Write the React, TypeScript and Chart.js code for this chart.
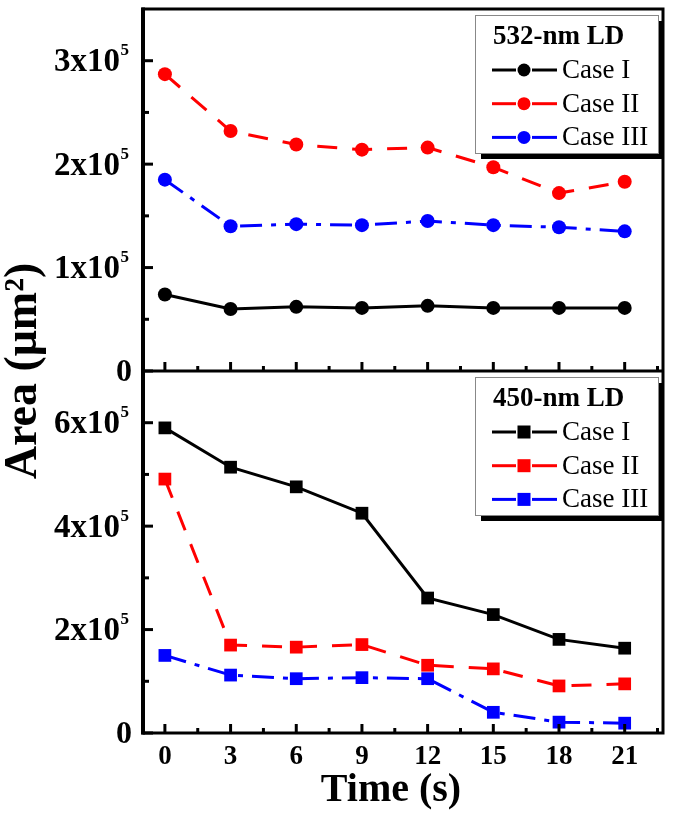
import React, { useEffect, useRef } from 'react';
import { Chart, registerables } from 'chart.js';

Chart.register(...registerables);

// ---------- data ----------
const timeValues = [0, 3, 6, 9, 12, 15, 18, 21];

const area532CaseI = [74000, 60000, 62000, 61000, 63000, 61000, 61000, 61000];
const area532CaseII = [287000, 232000, 219000, 214000, 216000, 197000, 172000, 183000];
const area532CaseIII = [185000, 140000, 142000, 141000, 145000, 141000, 139000, 135000];

const area450CaseI = [590000, 514000, 476000, 425000, 261000, 229000, 181000, 164000];
const area450CaseII = [491000, 170000, 166000, 171000, 131000, 124000, 91000, 95000];
const area450CaseIII = [150000, 112000, 105000, 107000, 105000, 40000, 21000, 19000];

const xTickValues = [0, 3, 6, 9, 12, 15, 18, 21];
const xMinorTickValues = [1.5, 4.5, 7.5, 10.5, 13.5, 16.5, 19.5, 22.5];
const yTopTickValues = [0, 100000, 200000, 300000];
const yTopMinorTickValues = [50000, 150000, 250000];
const yBotTickValues = [0, 200000, 400000, 600000];
const yBotMinorTickValues = [100000, 300000, 500000];

const legendTitles = ['532-nm LD', '450-nm LD'];
const caseLabels = ['Case I', 'Case II', 'Case III'];
const xAxisTitle = 'Time (s)';
const yAxisTitle = 'Area (\u03BCm\u00B2)';

// ---------- styles ----------
const FONT = '"Liberation Serif", "Times New Roman", serif';
const caseColors = ['#000000', '#ff0000', '#0000ff'];
const caseDashes: number[][] = [[], [20, 15], [22, 9, 5, 9]];

const makeDataset = (values: number[], idx: number, panel: number) => {
  const isCircle = panel === 0;
  return {
    label: caseLabels[idx],
    data: timeValues.map((x, i) => ({ x, y: values[i] })),
    borderColor: caseColors[idx],
    backgroundColor: caseColors[idx],
    borderWidth: 3,
    borderDash: caseDashes[idx],
    pointStyle: isCircle ? 'circle' : 'rect',
    pointRadius: isCircle ? 7 : 9,
    pointBorderWidth: 0,
    pointBackgroundColor: caseColors[idx],
    pointBorderColor: caseColors[idx],
    yAxisID: panel === 0 ? 'yTop' : 'yBot',
    tension: 0,
    panel,
  };
};

const framePlugin = {
  id: 'framePlugin',
  afterDatasetsDraw(chart: any) {
    const { ctx, chartArea: ca, scales } = chart;
    const xs = scales.x;
    const panels = [
      { s: scales.yTop, major: yTopTickValues, minor: yTopMinorTickValues },
      { s: scales.yBot, major: yBotTickValues, minor: yBotMinorTickValues },
    ];
    ctx.save();
    ctx.strokeStyle = '#000';
    ctx.setLineDash([]);
    ctx.lineWidth = 3;
    ctx.lineCap = 'butt';
    for (const p of panels) {
      const bottom = p.s.bottom;
      for (const v of xTickValues) {
        const px = xs.getPixelForValue(v);
        ctx.beginPath(); ctx.moveTo(px, bottom); ctx.lineTo(px, bottom - 9); ctx.stroke();
      }
      for (const v of xMinorTickValues) {
        const px = xs.getPixelForValue(v);
        ctx.beginPath(); ctx.moveTo(px, bottom); ctx.lineTo(px, bottom - 5); ctx.stroke();
      }
      for (const v of p.major) {
        const py = p.s.getPixelForValue(v);
        ctx.beginPath(); ctx.moveTo(ca.left, py); ctx.lineTo(ca.left + 10, py); ctx.stroke();
      }
      for (const v of p.minor) {
        const py = p.s.getPixelForValue(v);
        ctx.beginPath(); ctx.moveTo(ca.left, py); ctx.lineTo(ca.left + 6, py); ctx.stroke();
      }
    }
    // frame
    ctx.lineWidth = 3;
    ctx.strokeRect(ca.left, ca.top, ca.right - ca.left, ca.bottom - ca.top);
    const mid = scales.yTop.bottom;
    ctx.beginPath(); ctx.moveTo(ca.left, mid); ctx.lineTo(ca.right, mid); ctx.stroke();
    ctx.lineWidth = 4;
    ctx.beginPath(); ctx.moveTo(ca.left, ca.top - 1.5); ctx.lineTo(ca.left, ca.bottom + 1.5); ctx.stroke();
    ctx.restore();
  },
  afterDraw(chart: any) {
    const { ctx, chartArea: ca, scales } = chart;
    ctx.save();
    ctx.fillStyle = '#000';
    // y tick labels with superscript exponent
    const panels = [
      { s: scales.yTop, major: yTopTickValues },
      { s: scales.yBot, major: yBotTickValues },
    ];
    ctx.textBaseline = 'middle';
    ctx.textAlign = 'right';
    for (const p of panels) {
      for (const v of p.major) {
        const py = p.s.getPixelForValue(v) + 2;
        if (v === 0) {
          ctx.font = `bold 32px ${FONT}`;
          ctx.fillText('0', ca.left - 11, py);
        } else {
          ctx.font = `bold 17px ${FONT}`;
          const sw = ctx.measureText('5').width;
          ctx.fillText('5', ca.left - 14, py - 12);
          ctx.font = `bold 33px ${FONT}`;
          ctx.fillText(`${v / 100000}x10`, ca.left - 14 - sw - 0.5, py);
        }
      }
    }
    // axis titles
    ctx.textAlign = 'center';
    ctx.font = `bold 40px ${FONT}`;
    ctx.fillText(xAxisTitle, ca.left + 248, ca.bottom + 58);
    ctx.save();
    ctx.translate(24, (ca.top + ca.bottom) / 2);
    ctx.rotate(-Math.PI / 2);
    ctx.font = `bold 46px ${FONT}`;
    ctx.fillText(yAxisTitle, 0, 0);
    ctx.restore();

    // legends
    const panelTops = [scales.yTop.top, scales.yBot.top];
    panelTops.forEach((pTop: number, pi: number) => {
      const left = ca.right - 188;
      const top = pTop + 6;
      const w = 183;
      const h = 138;
      ctx.fillStyle = '#000';
      ctx.fillRect(left + 6, top + 6, w, h);
      ctx.fillStyle = '#fff';
      ctx.fillRect(left, top, w, h);
      ctx.strokeStyle = '#888';
      ctx.lineWidth = 1;
      ctx.setLineDash([]);
      ctx.strokeRect(left + 0.5, top + 0.5, w, h);
      ctx.fillStyle = '#000';
      ctx.textAlign = 'left';
      ctx.textBaseline = 'middle';
      ctx.font = `bold 27px ${FONT}`;
      ctx.fillText(legendTitles[pi], ca.right - 170, top + 22);
      const dsets = chart.data.datasets.filter((d: any) => d.panel === pi);
      dsets.forEach((d: any, i: number) => {
        const cy = top + 55 + i * 33.7;
        ctx.strokeStyle = d.borderColor;
        ctx.lineWidth = 3;
        ctx.beginPath(); ctx.moveTo(ca.right - 171, cy); ctx.lineTo(ca.right - 147, cy); ctx.stroke();
        ctx.beginPath(); ctx.moveTo(ca.right - 131, cy); ctx.lineTo(ca.right - 106, cy); ctx.stroke();
        ctx.fillStyle = d.borderColor;
        const mx = ca.right - 139;
        if (d.pointStyle === 'circle') {
          ctx.beginPath(); ctx.arc(mx, cy, 6.5, 0, Math.PI * 2); ctx.fill();
        } else {
          ctx.fillRect(mx - 6.5, cy - 6.5, 13, 13);
        }
        ctx.fillStyle = '#000';
        ctx.font = `27px ${FONT}`;
        ctx.fillText(d.label, ca.right - 101, cy + 1);
      });
    });
    ctx.restore();
  },
};

export default function App() {
  const canvasRef = useRef<HTMLCanvasElement | null>(null);

  useEffect(() => {
    document.body.style.margin = '0';
    const canvas = canvasRef.current;
    if (!canvas) return;
    const datasets = [
      makeDataset(area532CaseI, 0, 0),
      makeDataset(area532CaseII, 1, 0),
      makeDataset(area532CaseIII, 2, 0),
      makeDataset(area450CaseI, 0, 1),
      makeDataset(area450CaseII, 1, 1),
      makeDataset(area450CaseIII, 2, 1),
    ];
    const chart = new Chart(canvas, {
      type: 'line',
      data: { datasets } as any,
      options: {
        animation: false,
        responsive: false,
        events: [],
        layout: { padding: { top: 3, right: 12, left: 0, bottom: 0 } },
        plugins: { legend: { display: false }, tooltip: { enabled: false } },
        scales: {
          x: {
            type: 'linear',
            min: -1,
            max: 22.75,
            grid: { display: false, drawTicks: false },
            border: { display: false },
            afterBuildTicks: (s: any) => { s.ticks = xTickValues.map((v) => ({ value: v })); },
            afterFit: (s: any) => { s.height = 81; },
            ticks: {
              color: '#000',
              padding: 8,
              maxRotation: 0,
              autoSkip: false,
              font: { family: FONT, size: 27, weight: 'bold' },
              callback: (v: any) => String(v),
            },
          },
          yBot: {
            type: 'linear',
            position: 'left',
            stack: 'panels',
            stackWeight: 1,
            min: 0,
            max: 700000,
            grid: { display: false, drawTicks: false },
            border: { display: false },
            ticks: { display: false },
            afterFit: (s: any) => { s.width = 143; },
          },
          yTop: {
            type: 'linear',
            position: 'left',
            stack: 'panels',
            stackWeight: 1,
            min: 0,
            max: 350000,
            grid: { display: false, drawTicks: false },
            border: { display: false },
            ticks: { display: false },
            afterFit: (s: any) => { s.width = 143; },
          },
        } as any,
      },
      plugins: [framePlugin],
    });
    return () => chart.destroy();
  }, []);

  return (
    <canvas ref={canvasRef} width={675} height={814} style={{ display: 'block', width: 675, height: 814 }} />
  );
}
